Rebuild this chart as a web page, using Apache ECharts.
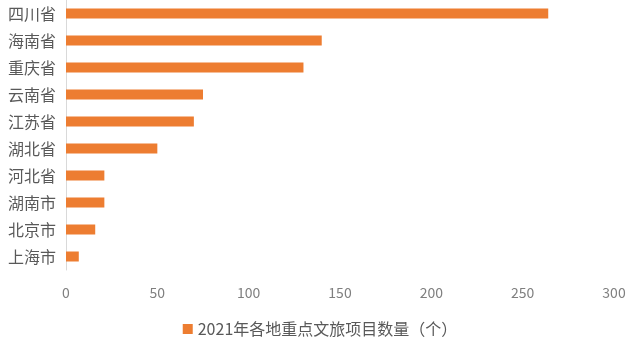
<!DOCTYPE html>
<html>
<head>
<meta charset="utf-8">
<script src="https://cdn.jsdelivr.net/npm/echarts@6/dist/echarts.min.js"></script>
<style>
  html, body { margin: 0; padding: 0; background: #fff; }
  #chart { width: 640px; height: 345px; }
</style>
</head>
<body>
<div id="chart"></div>
<script>
const regions = ['四川省', '海南省', '重庆省', '云南省', '江苏省', '湖北省', '河北省', '湖南市', '北京市', '上海市'];
const projectCounts = [264, 140, 130, 75, 70, 50, 21, 21, 16, 7];
const seriesName = '2021年各地重点文旅项目数量（个）';

const font = '"Noto Sans CJK SC", "Noto Sans", sans-serif';

const chart = echarts.init(document.getElementById('chart'));

const options = {
    animation: false,
    textStyle: { fontFamily: font },
    legend: {
        bottom: 3,
        left: 'center',
        icon: 'rect',
        itemWidth: 10,
        itemHeight: 10,
        itemGap: 6,
        textStyle: { fontSize: 16, color: '#595959', fontFamily: font },
        data: [seriesName]
    },
    grid: {
        left: 66,
        right: 26,
        top: 0,
        bottom: 75
    },
    xAxis: {
        type: 'value',
        min: 0,
        max: 300,
        interval: 50,
        axisLine: { show: false },
        axisTick: { show: false },
        splitLine: { show: false },
        axisLabel: { color: '#7f7f7f', fontSize: 14, margin: 16, fontFamily: font }
    },
    yAxis: {
        type: 'category',
        inverse: true,
        data: regions,
        axisLine: { show: true, lineStyle: { color: '#d9d9d9', width: 1 } },
        axisTick: { show: false },
        axisLabel: { color: '#595959', fontSize: 16, margin: 10, fontFamily: font }
    },
    series: [
        {
            name: seriesName,
            type: 'bar',
            data: projectCounts,
            barWidth: 10,
            itemStyle: { color: '#ED7D31' }
        }
    ]
};

chart.setOption(options);
</script>
</body>
</html>
